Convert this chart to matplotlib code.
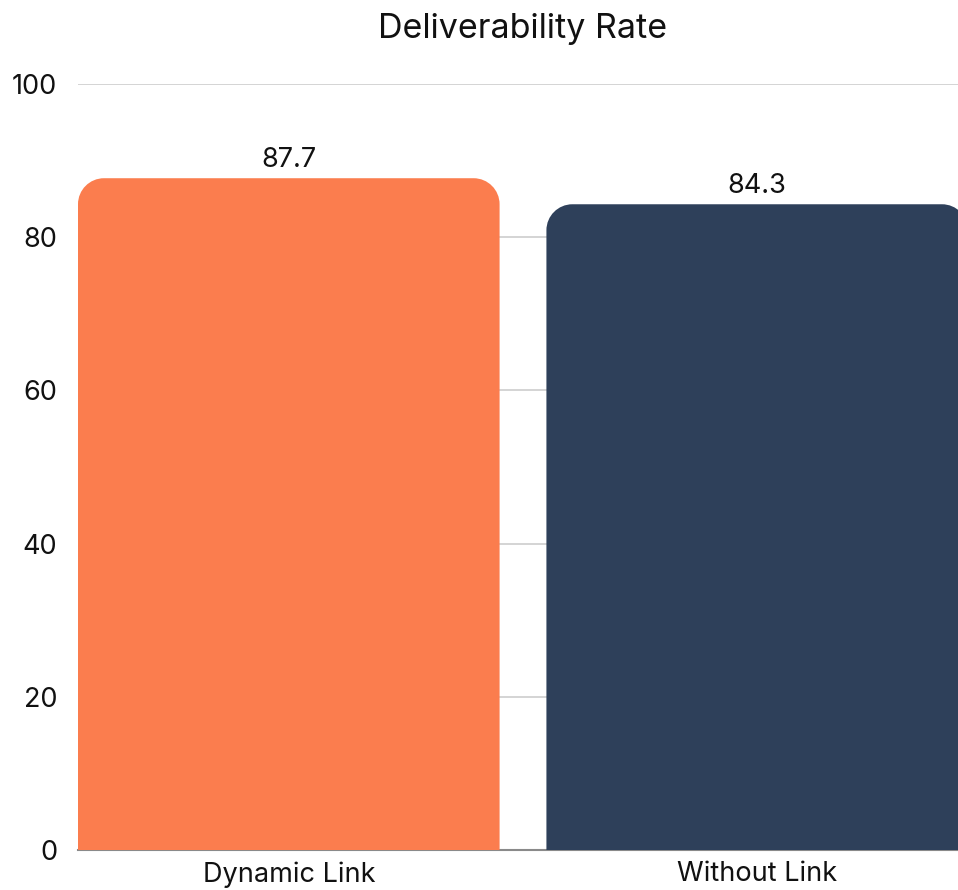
import matplotlib
matplotlib.use("Agg")
import matplotlib.pyplot as plt
from matplotlib.path import Path
from matplotlib.patches import PathPatch

# Chart data
categories = ["Dynamic Link", "Without Link"]
values = [87.7, 84.3]
bar_colors = ["#FB7D4E", "#2E405A"]
yticks = [0, 20, 40, 60, 80, 100]
title = "Deliverability Rate"

plt.rcParams["font.family"] = ["Inter", "DejaVu Sans"]

W, H = 958, 890
fig = plt.figure(figsize=(W / 100, H / 100), dpi=100)

# Plot area in pixels (the right edge runs slightly past the canvas)
left_px, right_px = 78, 968
top_px, bottom_px = 84, 850
ax = fig.add_axes([left_px / W, (H - bottom_px) / H,
                   (right_px - left_px) / W, (bottom_px - top_px) / H])

xmin, xmax = -0.45, 1.45
ax.set_xlim(xmin, xmax)
ax.set_ylim(yticks[0], yticks[-1])

px_per_x = (right_px - left_px) / (xmax - xmin)
px_per_y = (bottom_px - top_px) / (yticks[-1] - yticks[0])


def rounded_bar(x, h, width, radius_px, color):
    """Bar with rounded top corners, built as a path in data space."""
    x0, x1 = x - width / 2, x + width / 2
    rx = radius_px / px_per_x
    ry = min(radius_px / px_per_y, h)
    k = 0.5523
    verts = [
        (x0, 0), (x0, h - ry),
        (x0, h - ry + k * ry), (x0 + rx - k * rx, h), (x0 + rx, h),
        (x1 - rx, h),
        (x1 - rx + k * rx, h), (x1, h - ry + k * ry), (x1, h - ry),
        (x1, 0), (x0, 0),
    ]
    codes = [Path.MOVETO, Path.LINETO,
             Path.CURVE4, Path.CURVE4, Path.CURVE4,
             Path.LINETO,
             Path.CURVE4, Path.CURVE4, Path.CURVE4,
             Path.LINETO, Path.CLOSEPOLY]
    ax.add_patch(PathPatch(Path(verts, codes), facecolor=color,
                           edgecolor="none", zorder=3))


bar_width = 0.9
for i, (v, c) in enumerate(zip(values, bar_colors)):
    rounded_bar(i, v, bar_width, 26, c)
    ax.annotate(f"{v}", (i, v), xytext=(0, 3.5), textcoords="offset points",
                ha="center", va="bottom", fontsize=19.5, color="#111111",
                zorder=4)

# Grid and baseline
ax.set_yticks(yticks)
ax.grid(axis="y", color="#d4d4d4", linewidth=1.4, zorder=0)
ax.set_axisbelow(True)
ax.axhline(0, color="#8a8a8a", linewidth=1.5, zorder=2, clip_on=False)

for s in ax.spines.values():
    s.set_visible(False)

ax.set_xticks(range(len(categories)))
ax.set_xticklabels(categories)
ax.tick_params(axis="y", length=0, pad=15, labelsize=19.5, labelcolor="#111111")
ax.tick_params(axis="x", length=0, pad=8, labelsize=19.5, labelcolor="#111111")

ax.set_title(title, fontsize=24.5, pad=33, color="#111111")

fig.savefig("out.png", dpi=100)
